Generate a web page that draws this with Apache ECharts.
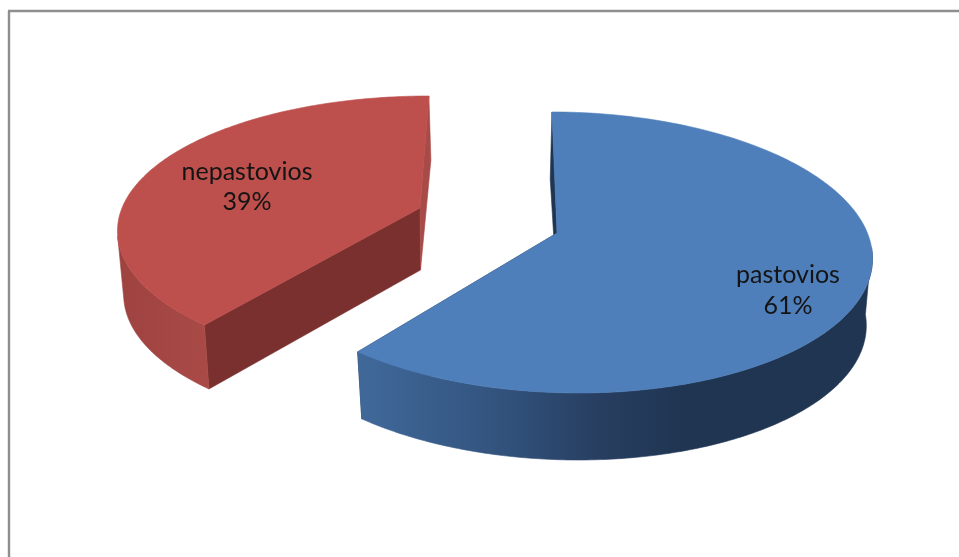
<!DOCTYPE html>
<html><head><meta charset="utf-8">
<style>html,body{margin:0;padding:0;background:#fff}#c{width:959px;height:557px}</style>
<script src="https://cdn.jsdelivr.net/npm/echarts@6/dist/echarts.min.js"></script>
</head><body><div id="c"></div>
<script>
var categories = ['pastovios', 'nepastovios'];
var shares = [61, 39];

// projection of each exploded slice (layout only)
var geometry = [
  {apex:[557,233], X0:563.4, Y0:233, R:304, g:13, B:137.8, k:0.1387, depth:67, shrink:0.98, sideFrom:96, apexDepth:65, backNudge:-2,
   top:'#4f7fba', faceA:'#1f3552', faceB:'#1f3552',
   side:[[0,'#40699a'],[0.35,'#33547f'],[0.62,'#283f62'],[0.85,'#1f3552'],[1,'#1f3552']], gradX:[358,740],
   label:[788,275,306]},
  {apex:[420,208], X0:430, Y0:208, R:308, g:1.3, B:131.5, k:0.174, depth:64, shrink:0.98, sideFrom:258, apexDepth:62, backNudge:2,
   top:'#bd4f4c', faceA:'#7a302e', faceB:'#a84a47',
   side:[[0,'#a94a47'],[1,'#9f4340']], gradX:[210,120],
   label:[247,172,202]}
];

var total = shares.reduce(function(a,b){return a+b;},0);
var starts = [], acc = 0;
shares.forEach(function(v){ starts.push(acc); acc += v/total*360; });

function rim(g, deg, lower){
  var t = deg*Math.PI/180, u = Math.sin(t), v = -Math.cos(t);
  var s = 1/(1 - g.k*v), f = lower ? g.shrink : 1;
  return [g.X0 + (g.R*u + g.g*v)*s*f, g.Y0 + g.B*v*s + (lower ? g.depth : 0)];
}
function arc(g, a, b, lower){
  var n = 160, out = [];
  for (var i = 0; i <= n; i++) out.push(rim(g, a + (b-a)*i/n, lower));
  return out;
}

function renderItem(params, api){
  var i = params.dataIndex, g = geometry[i];
  var a = starts[i], b = a + api.value(0)/total*360;
  var apexLow = [g.apex[0]+0.5, g.apex[1]+g.apexDepth];
  var startTop = rim(g,a,false), startLow = rim(g,a,true);
  var endTop = rim(g,b,false), endLow = rim(g,b,true);
  if (i === 0) startLow[0] += g.backNudge; else endLow[0] += g.backNudge;
  var lo = i===0 ? g.sideFrom : a, hi = i===0 ? b : g.sideFrom;
  var sidePts = arc(g, lo, hi, false).concat(arc(g, lo, hi, true).reverse());
  var grad = new echarts.graphic.LinearGradient(g.gradX[0],0,g.gradX[1],0,
     g.side.map(function(s){return {offset:s[0],color:s[1]};}), true);
  var topPts = [g.apex].concat(arc(g,a,b,false));
  var st = function(c){ return {fill:c, stroke:c, lineWidth:0.6}; };
  var faces = [
    {type:'polygon', shape:{points:[startTop,startLow,apexLow,g.apex]}, style:st(g.faceA)},
    {type:'polygon', shape:{points:[endTop,endLow,apexLow,g.apex]}, style:st(g.faceB)}
  ];
  return {type:'group', children:faces.concat([
    {type:'polygon', shape:{points:sidePts}, style:{fill:grad, stroke:grad, lineWidth:0.6}},
    {type:'polygon', shape:{points:topPts}, style:st(g.top)},
    {type:'text', style:{x:g.label[0], y:g.label[1], text:categories[i], align:'center', verticalAlign:'middle',
       fill:'#141414', font:'25px Lato'}},
    {type:'text', style:{x:g.label[0], y:g.label[2], text:Math.round(api.value(0)/total*100)+'%', align:'center', verticalAlign:'middle',
       fill:'#141414', font:'25px Lato'}}
  ])};
}

var chart = echarts.init(document.getElementById('c'), null, {renderer:'canvas'});
chart.setOption({
  animation:false,
  backgroundColor:'#ffffff',
  graphic:[
    {type:'line', shape:{x1:9,y1:11,x2:9,y2:557}, style:{stroke:'#8f8f8f',lineWidth:2.4}},
    {type:'line', shape:{x1:8,y1:11,x2:959,y2:11}, style:{stroke:'#8f8f8f',lineWidth:2.4}}
  ],
  series:[{type:'custom', coordinateSystem:'none', silent:true, renderItem:renderItem,
    data: shares.map(function(v,i){return {name:categories[i], value:[v]};})}]
});
</script></body></html>
